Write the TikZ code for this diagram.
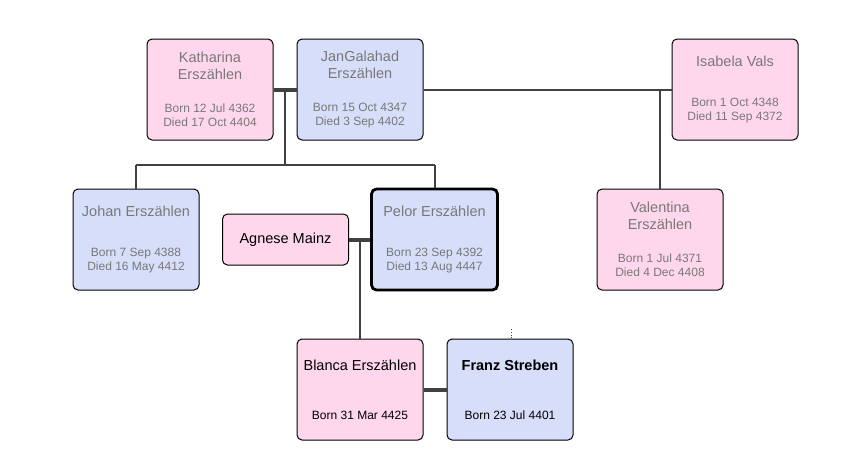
\documentclass[tikz,border=0pt]{standalone}
\usepackage{fontspec}
\setmainfont{Liberation Sans}
\usetikzlibrary{calc}
\definecolor{pinkfill}{RGB}{255,215,236}
\definecolor{bluefill}{RGB}{215,222,250}
\definecolor{textgray}{RGB}{120,120,120}
\definecolor{linegray}{RGB}{65,65,65}
\newcommand{\namefont}{\fontsize{14.5}{17}\selectfont}
\newcommand{\datefont}{\fontsize{12}{14}\selectfont}
\tikzset{
  person/.style={draw=black, line width=1pt, rounded corners=5pt,
    minimum width=126pt, minimum height=101pt, inner sep=0pt,
    align=center, font=\datefont, text=textgray},
  female/.style={person, fill=pinkfill},
  male/.style={person, fill=bluefill},
  link/.style={draw=linegray, line width=2pt},
  couple/.style={draw=linegray, line width=4pt},
}
\begin{document}
\begin{tikzpicture}[x=1pt, y=-1pt]
    \useasboundingbox (0,0) rectangle (861,456);
    % grandparents
    \node[female] (katharina) at (210,89.5)
        {{\namefont Katharina}\\[3pt]{\namefont Erszählen}\\[19pt]Born 12 Jul 4362\\Died 17 Oct 4404};
    \node[male] (jangalahad) at (360,89.5)
        {{\namefont JanGalahad}\\[3pt]{\namefont Erszählen}\\[19pt]Born 15 Oct 4347\\Died 3 Sep 4402};
    \node[female] (isabela) at (735,89.5)
        {{\namefont Isabela Vals}\\[26pt]Born 1 Oct 4348\\Died 11 Sep 4372};
    % children
    \node[male] (johan) at (136,239.5)
        {{\namefont Johan Erszählen}\\[26pt]Born 7 Sep 4388\\Died 16 May 4412};
    \node[female, minimum height=51pt, text=black, font=\namefont] (agnese) at (285.5,239.5)
        {Agnese Mainz};
    \node[male, line width=2.8pt] (pelor) at (434.5,239.5)
        {{\namefont Pelor Erszählen}\\[26pt]Born 23 Sep 4392\\Died 13 Aug 4447};
    \node[female] (valentina) at (660,239.5)
        {{\namefont Valentina}\\[3pt]{\namefont Erszählen}\\[19pt]Born 1 Jul 4371\\Died 4 Dec 4408};
    % grandchild
    \node[female, text=black] (blanca) at (360,389.5)
        {{\namefont Blanca Erszählen}\\[35pt]Born 31 Mar 4425};
    \node[male, text=black] (franz) at (510,389.5)
        {{\namefont\bfseries Franz Streben}\\[35pt]Born 23 Jul 4401};
    % helper coordinates
    \coordinate (kj) at ($(katharina.east)!0.5!(jangalahad.west)$);
    \coordinate (sib) at (0,165);
    \coordinate (ap) at ($(agnese.east)!0.5!(pelor.west)$);
    \coordinate (franzup) at (511,329);
    % draw connectors
    \draw[couple] (katharina) -- (jangalahad);
    \draw[link] (jangalahad) -- (isabela);
    \draw[link] (kj) -- (kj |- sib);
    \draw[link] (johan.north |- sib) -- (pelor.north |- sib);
    \draw[link] (johan.north |- sib) -- (johan.north);
    \draw[link] (pelor.north |- sib) -- (pelor.north);
    \draw[link] (valentina.north |- isabela.west) -- (valentina.north);
    \draw[couple] (agnese) -- (pelor);
    \draw[link] (ap) -- (ap |- blanca.north);
    \draw[couple] (blanca) -- (franz);
    \draw[linegray, line width=0.8pt, dotted] (franzup) -- (franzup |- franz.north);
\end{tikzpicture}
\end{document}
